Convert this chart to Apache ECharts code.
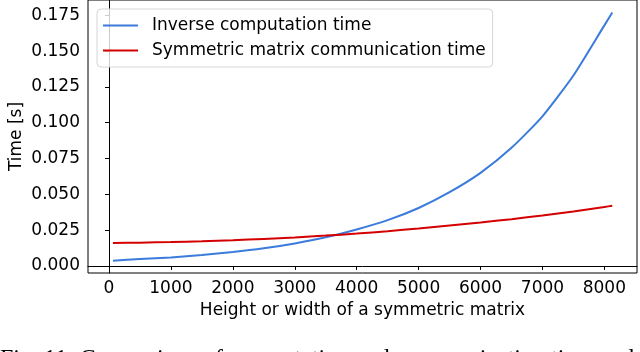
<!DOCTYPE html>
<html>
<head>
<meta charset="utf-8">
<script src="https://cdn.jsdelivr.net/npm/echarts@6/dist/echarts.min.js"></script>
<style>
  html, body { margin: 0; padding: 0; background: #fff; }
  #chart { width: 640px; height: 352px; }
</style>
</head>
<body>
<div id="chart"></div>
<script>
// matrix size (height or width)
const matrixSize = [64, 500, 1000, 1500, 2000, 2500, 3000, 3500, 4000, 4500, 5000, 5500, 6000, 6500, 7000, 7500, 8000, 8128]
// time in seconds
const inverseTime = [0.0037, 0.0048, 0.0060, 0.0077, 0.0097, 0.0123, 0.0157, 0.0200, 0.0255, 0.0320, 0.0405, 0.0515, 0.0650, 0.0825, 0.1045, 0.1330, 0.1680, 0.1770]
const commTime = [0.0161, 0.0163, 0.0167, 0.0173, 0.0180, 0.0189, 0.0199, 0.0212, 0.0226, 0.0243, 0.0262, 0.0283, 0.0304, 0.0327, 0.0353, 0.0381, 0.0412, 0.0421]

const xTicks = [0, 1000, 2000, 3000, 4000, 5000, 6000, 7000, 8000]
const yTicks = [0, 0.025, 0.05, 0.075, 0.1, 0.125, 0.15, 0.175]

const seriesNames = ['Inverse computation time', 'Symmetric matrix communication time']
const caption = 'Fig. 11: Comparison of computation and communication time and'

const font = 'DejaVu Sans'
const fs = 17

const pairs = (xs, ys) => xs.map((x, i) => [x, ys[i]])

const chart = echarts.init(document.getElementById('chart'))

const option = {
  animation: false,
  backgroundColor: '#fff',
  textStyle: { fontFamily: font },
  grid: {
    left: 88,
    right: 3,
    top: 0,
    bottom: 79,
    outerBoundsMode: 'none',
    show: true,
    borderColor: '#000',
    borderWidth: 1,
  },
  legend: {
    orient: 'vertical',
    left: 97,
    top: 9,
    padding: [8, 7, 8, 6],
    icon: 'rect',
    itemWidth: 35,
    itemHeight: 2,
    itemGap: 8,
    backgroundColor: 'rgba(255,255,255,0.8)',
    borderColor: '#d6d6d6',
    borderWidth: 1,
    borderRadius: 4,
    textStyle: { fontFamily: font, fontSize: fs, lineHeight: 14, color: '#000', padding: [0, 0, 0, 9] },
    data: seriesNames,
  },
  xAxis: {
    type: 'value',
    min: -339,
    max: 8527,
    name: 'Height or width of a symmetric matrix',
    nameLocation: 'middle',
    nameGap: 29,
    nameMoveOverlap: false,
    nameTextStyle: { fontFamily: font, fontSize: fs, color: '#000' },
    splitLine: { show: false },
    axisLine: { show: true, lineStyle: { color: '#000', width: 1 } },
    axisTick: { show: true, length: 4, lineStyle: { color: '#000' }, customValues: xTicks },
    axisLabel: {
      fontFamily: font,
      fontSize: fs,
      color: '#000',
      margin: 7,
      customValues: xTicks,
      formatter: (v) => String(v),
    },
  },
  yAxis: {
    type: 'value',
    min: -0.0049,
    max: 0.1857,
    name: 'Time [s]',
    nameLocation: 'middle',
    nameGap: 63,
    nameMoveOverlap: false,
    nameTextStyle: { fontFamily: font, fontSize: fs, color: '#000' },
    splitLine: { show: false },
    axisLine: { show: true, lineStyle: { color: '#000', width: 1 } },
    axisTick: { show: true, length: 4, lineStyle: { color: '#000' }, customValues: yTicks },
    axisLabel: {
      fontFamily: font,
      fontSize: fs,
      color: '#000',
      margin: 8,
      customValues: yTicks,
      formatter: (v) => v.toFixed(3),
    },
  },
  series: [
    {
      name: seriesNames[0],
      type: 'line',
      data: pairs(matrixSize, inverseTime),
      symbol: 'none',
      smooth: 0.2,
      lineStyle: { color: '#3a7bdc', width: 2 },
      itemStyle: { color: '#3a7bdc' },
    },
    {
      name: seriesNames[1],
      type: 'line',
      data: pairs(matrixSize, commTime),
      symbol: 'none',
      smooth: 0.2,
      lineStyle: { color: '#d40000', width: 2 },
      itemStyle: { color: '#d40000' },
    },
  ],
  graphic: [
    {
      type: 'text',
      left: 0,
      top: 347,
      style: {
        text: caption,
        fontFamily: 'Liberation Serif',
        fontSize: 24,
        fill: '#000',
      },
    },
  ],
}

chart.setOption(option)
</script>
</body>
</html>
